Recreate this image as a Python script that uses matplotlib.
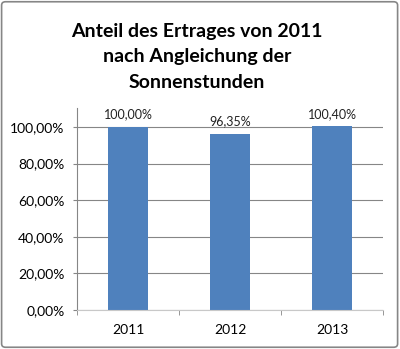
import numpy as np
import matplotlib.pyplot as plt
from matplotlib.patches import FancyBboxPatch

years = ['2011', '2012', '2013']
anteil = [1.0, 0.9635, 1.004]
labels = ['100,00%', '96,35%', '100,40%']
yticks = [0.0, 0.2, 0.4, 0.6, 0.8, 1.0]

plt.rcParams['font.family'] = ['Lato', 'DejaVu Sans']

fig = plt.figure(figsize=(4.0, 3.49), dpi=100)
ax = fig.add_axes([0.1925, 0.1117, 0.765, 0.5788])

x = np.arange(len(years))
ax.bar(x, anteil, width=0.39, color='#4f81bd', zorder=3)
for xi, v, lab in zip(x, anteil, labels):
    ax.text(xi, v + 0.035, lab, ha='center', va='bottom', fontsize=9, color='#222222')

ax.set_xlim(-0.5, 2.5)
ax.set_ylim(0, 1.104)
ax.set_yticks(yticks)
ax.yaxis.set_ticklabels([('%.2f%%' % (t * 100)).replace('.', ',') for t in yticks])
ax.set_xticks(x)
ax.set_xticklabels(years)
ax.set_xticks([-0.5, 0.5, 1.5, 2.5], minor=True)
ax.tick_params(axis='x', which='major', length=0, pad=10, labelsize=10)
ax.tick_params(axis='x', which='minor', length=3.5, color='#868686', direction='out')
ax.tick_params(axis='y', length=3, color='#868686', labelsize=10, pad=6)
ax.grid(axis='y', color='#868686', linewidth=0.8, zorder=0)
for s in ['top', 'right']:
    ax.spines[s].set_visible(False)
ax.spines['left'].set_color('#868686')
ax.spines['bottom'].set_color('#c8c8c8')
ax.spines['bottom'].set_zorder(4)

fig.text(0.4925, 0.837, 'Anteil des Ertrages von 2011\nnach Angleichung der\nSonnenstunden',
         ha='center', va='center', fontsize=14, fontweight='bold', linespacing=1.6)

border = FancyBboxPatch((0.004, 0.005), 0.99, 0.99, boxstyle='round,pad=0,rounding_size=0.01',
                        transform=fig.transFigure, fill=False, edgecolor='#868686', linewidth=1.2)
fig.patches.append(border)

fig.savefig('out.png', dpi=100)
